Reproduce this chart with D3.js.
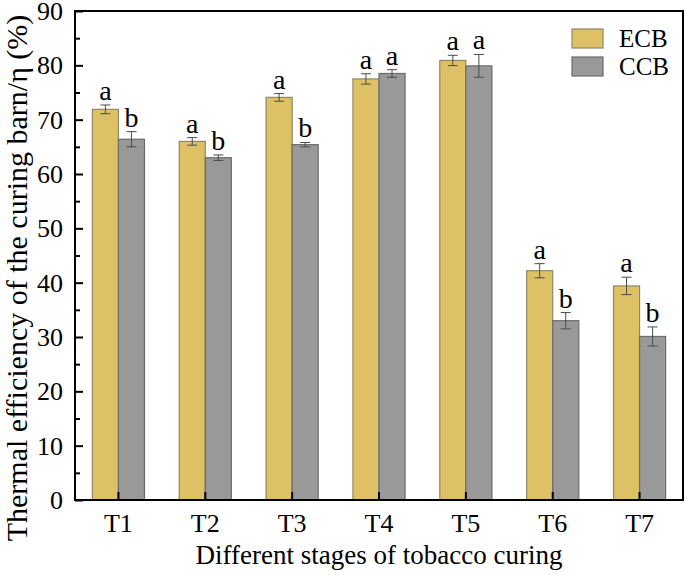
<!doctype html>
<html>
  <head>
    <meta charset="utf-8">
    <title>Thermal efficiency of curing barns</title>
    <script src="https://cdn.jsdelivr.net/npm/d3@7"></script>
    <style>
      body { margin: 0; background: #fff; }
      svg text { font-family: "Liberation Serif", "Times New Roman", serif; fill: #000; }
    </style>
  </head>
  <body>
    <svg id="chart" width="685" height="575"></svg>
<script>
// data
var stages = ['T1', 'T2', 'T3', 'T4', 'T5', 'T6', 'T7'];
var seriesNames = ['ECB', 'CCB'];
var ecbValues = [71.9, 66.0, 74.1, 77.5, 80.9, 42.2, 39.4];
var ecbErrors = [0.8, 0.7, 0.7, 0.95, 0.95, 1.3, 1.6];
var ccbValues = [66.4, 63.0, 65.4, 78.5, 79.9, 33.0, 30.1];
var ccbErrors = [1.4, 0.5, 0.4, 0.7, 2.1, 1.5, 1.75];
var ecbLetters = ['a', 'a', 'a', 'a', 'a', 'a', 'a'];
var ccbLetters = ['b', 'b', 'b', 'a', 'a', 'b', 'b'];
var yTicks = [0, 10, 20, 30, 40, 50, 60, 70, 80, 90];

var fills = { ECB: '#dfc165', CCB: '#999999' };
var strokes = { ECB: '#8f8766', CCB: '#6b6b6b' };

var svg = d3.select('#chart');
var plotLeft = 75, plotRight = 683, plotTop = 11, plotBottom = 500;

var x = d3.scaleBand().domain(stages).range([plotLeft, plotRight]).paddingInner(0.4).paddingOuter(0.2);
var xs = d3.scaleBand().domain(seriesNames).range([0, x.bandwidth()]);
var y = d3.scaleLinear().domain([0, 90]).range([plotBottom, plotTop]);

var rows = [];
stages.forEach(function(s, i) {
  rows.push({ stage: s, series: 'ECB', v: ecbValues[i], e: ecbErrors[i], label: ecbLetters[i] });
  rows.push({ stage: s, series: 'CCB', v: ccbValues[i], e: ccbErrors[i], label: ccbLetters[i] });
});

// bars
svg.append('g').selectAll('rect').data(rows).enter().append('rect')
  .attr('x', function(d) { return x(d.stage) + xs(d.series); })
  .attr('y', function(d) { return y(d.v); })
  .attr('width', xs.bandwidth())
  .attr('height', function(d) { return plotBottom - y(d.v); })
  .attr('fill', function(d) { return fills[d.series]; })
  .attr('stroke', function(d) { return strokes[d.series]; })
  .attr('stroke-width', 1.2);

// error bars
var eb = svg.append('g').attr('stroke', '#4a4a4a').attr('stroke-width', 1);
rows.forEach(function(d) {
  var cx = x(d.stage) + xs(d.series) + xs.bandwidth() / 2;
  var y0 = y(d.v - d.e), y1 = y(d.v + d.e);
  eb.append('line').attr('x1', cx).attr('x2', cx).attr('y1', y0).attr('y2', y1);
  eb.append('line').attr('x1', cx - 5).attr('x2', cx + 5).attr('y1', y0).attr('y2', y0);
  eb.append('line').attr('x1', cx - 5).attr('x2', cx + 5).attr('y1', y1).attr('y2', y1);
});

// significance letters
svg.append('g').selectAll('text').data(rows).enter().append('text')
  .attr('x', function(d) { return x(d.stage) + xs(d.series) + xs.bandwidth() / 2; })
  .attr('y', function(d) { return y(d.v + d.e) - 5; })
  .attr('text-anchor', 'middle')
  .style('font-size', '28px')
  .text(function(d) { return d.label; });

// frame
svg.append('rect').attr('x', plotLeft).attr('y', plotTop).attr('width', plotRight - plotLeft).attr('height', plotBottom - plotTop)
  .attr('fill', 'none').attr('stroke', '#000').attr('stroke-width', 2);

// y axis, ticks pointing inward
var yAxis = svg.append('g').attr('transform', 'translate(' + plotLeft + ',0)')
  .call(d3.axisRight(y).tickValues(yTicks).tickSize(8).tickFormat(''));
yAxis.select('.domain').remove();
yAxis.selectAll('line').attr('stroke', '#000').attr('stroke-width', 2);
var yMinor = svg.append('g').attr('transform', 'translate(' + plotLeft + ',0)')
  .call(d3.axisRight(y).tickValues(yTicks.slice(0, -1).map(function(t) { return t + 5; })).tickSize(5).tickFormat(''));
yMinor.select('.domain').remove();
yMinor.selectAll('line').attr('stroke', '#000').attr('stroke-width', 2);

svg.append('g').selectAll('text').data(yTicks).enter().append('text')
  .attr('x', plotLeft - 12)
  .attr('y', function(d) { return y(d) + 9; })
  .attr('text-anchor', 'end')
  .style('font-size', '26px')
  .text(function(d) { return d; });

// x axis, ticks pointing inward
var xAxis = svg.append('g').attr('transform', 'translate(0,' + plotBottom + ')')
  .call(d3.axisTop(x).tickSize(8).tickFormat(''));
xAxis.select('.domain').remove();
xAxis.selectAll('line').attr('stroke', '#000').attr('stroke-width', 2);

svg.append('g').selectAll('text').data(stages).enter().append('text')
  .attr('x', function(d) { return x(d) + x.bandwidth() / 2; })
  .attr('y', plotBottom + 32)
  .attr('text-anchor', 'middle')
  .style('font-size', '26px')
  .text(function(d) { return d; });

// titles
svg.append('text').attr('x', (plotLeft + plotRight) / 2).attr('y', 564)
  .attr('text-anchor', 'middle').style('font-size', '27px')
  .text('Different stages of tobacco curing');
svg.append('text')
  .attr('transform', 'translate(27,278) rotate(-90)')
  .attr('text-anchor', 'middle').style('font-size', '30px')
  .text('Thermal efficiency of the curing barn/η (%)');

// legend
var legend = svg.append('g').attr('transform', 'translate(572,29)');
seriesNames.forEach(function(s, i) {
  var g = legend.append('g').attr('transform', 'translate(0,' + i * 28 + ')');
  g.append('rect').attr('width', 31).attr('height', 19)
    .attr('fill', fills[s]).attr('stroke', strokes[s]).attr('stroke-width', 1.2);
  g.append('text').attr('x', 47).attr('y', 18).style('font-size', '25px').text(s);
});
</script>
  </body>
</html>
